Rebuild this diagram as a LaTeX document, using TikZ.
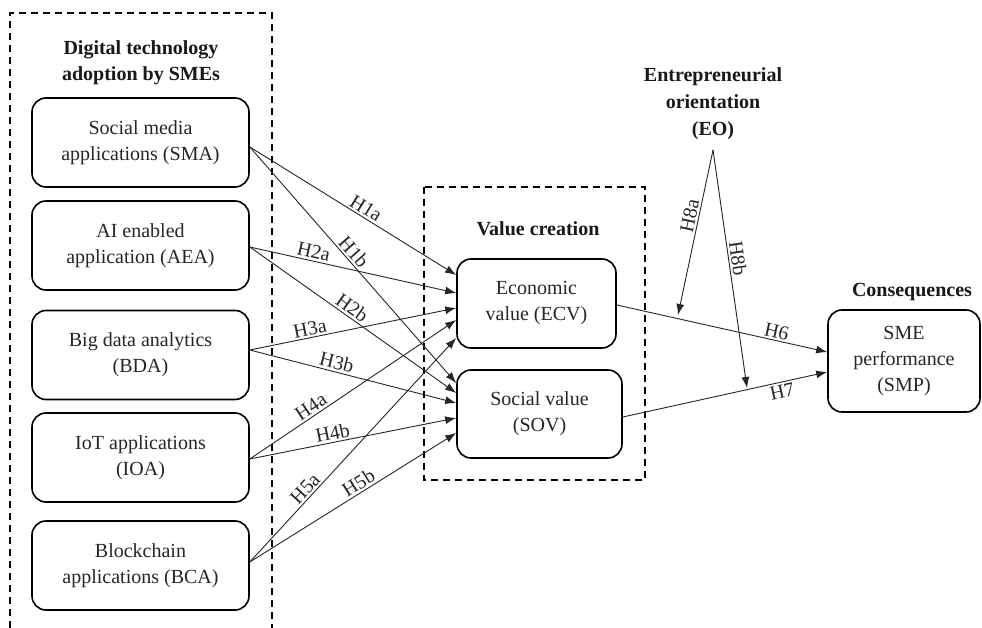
\documentclass[tikz,border=0pt]{standalone}
\usepackage{fontspec}
\setmainfont{Liberation Serif}
\usetikzlibrary{arrows.meta,calc}
\begin{document}
\begin{tikzpicture}[x=1pt,y=-1pt,
 box/.style={draw=black, line width=1.6pt, rounded corners=14pt, align=center,
   font=\fontsize{20}{26}\selectfont, text=black!85, inner sep=0pt},
 head/.style={align=center, font=\fontsize{20}{26}\selectfont\bfseries, text=black!90, inner sep=0pt},
 dashbox/.style={draw=black, line width=1.5pt, dash pattern=on 7pt off 5pt},
 arr/.style={draw=black!85, line width=0.9pt, -{Latex[length=11pt,width=8pt]}},
 hlab/.style={font=\fontsize{20}{24}\selectfont, text=black!85, sloped, inner sep=2pt},
]
\useasboundingbox (0,0) rectangle (982,628);
\fill[white] (0,0) rectangle (982,628);

% dashed group frames
\draw[dashbox] (10,628) -- (10,13) -- (272,13) -- (272,628);
\draw[dashbox] (424,187) rectangle (645,480);

% headings
\node[head] (hDTA) at (141,62.5) {Digital technology\\adoption by SMEs};
\node[head] (hVC) at (538,229) {Value creation};
\node[head, font=\fontsize{20}{27}\selectfont\bfseries] (EO) at (713,104) {Entrepreneurial\\orientation\\(EO)};
\node[head] (hCON) at (912,292) {Consequences};

% left boxes
\node[box, minimum width=217pt, minimum height=89pt] (SMA) at (140.5,142.5) {Social media\\applications (SMA)};
\node[box, minimum width=217pt, minimum height=89pt] (AEA) at (140.5,245.5) {AI enabled\\application (AEA)};
\node[box, minimum width=217pt, minimum height=89pt] (BDA) at (140.5,355) {Big data analytics\\(BDA)};
\node[box, minimum width=217pt, minimum height=89pt] (IOA) at (140.5,457.5) {IoT applications\\(IOA)};
\node[box, minimum width=217pt, minimum height=89pt] (BCA) at (140.5,565.5) {Blockchain\\applications (BCA)};

% value boxes
\node[box, minimum width=159pt, minimum height=89pt] (ECV) at (536.5,303.5) {Economic\\value (ECV)};
\node[box, minimum width=165pt, minimum height=88pt] (SOV) at (539.5,414) {Social value\\(SOV)};

% outcome
\node[box, minimum width=152pt, minimum height=102pt] (SMP) at (904,361) {SME\\performance\\(SMP)};

% H1-H5
\draw[arr] ($(SMA.east)+(0,4.5)$) -- node[hlab,above,pos=.54]{H1a} ($(ECV.west)+(0,-28.5)$);
\draw[arr] ($(SMA.east)+(0,4.5)$) -- node[hlab,above,pos=.47]{H1b} ($(SOV.west)+(0,-31)$);
\draw[arr] ($(AEA.east)+(0,1.5)$) -- node[hlab,above,pos=.30]{H2a} ($(ECV.west)+(0,-10.5)$);
\draw[arr] ($(AEA.east)+(0,1.5)$) -- node[hlab,above,pos=.47]{H2b} ($(SOV.west)+(0,-21)$);
\draw[arr] ($(BDA.east)+(0,-5)$) -- node[hlab,above,pos=.30]{H3a} ($(ECV.west)+(0,4.5)$);
\draw[arr] ($(BDA.east)+(0,-5)$) -- node[hlab,above,pos=.41]{H3b} ($(SOV.west)+(0,-11)$);
\draw[arr] ($(IOA.east)+(0,1.5)$) -- node[hlab,above,pos=.32]{H4a} ($(ECV.west)+(0,16.5)$);
\draw[arr] ($(IOA.east)+(0,1.5)$) -- node[hlab,above,pos=.41]{H4b} ($(SOV.west)+(0,4)$);
\draw[arr] ($(BCA.east)+(0,-3.5)$) -- node[hlab,above,pos=.30]{H5a} ($(ECV.west)+(0,34.5)$);
\draw[arr] ($(BCA.east)+(0,-3.5)$) -- node[hlab,above,pos=.55]{H5b} ($(SOV.west)+(0,19)$);

% H6, H7
\draw[arr] ($(ECV.east)+(0,1.5)$) -- node[hlab,above,pos=.75]{H6} ($(SMP.west)+(0,-9)$);
\draw[arr] ($(SOV.east)+(0,3)$) -- node[hlab,below,pos=.77]{H7} ($(SMP.west)+(0,11)$);

% H8 moderation
\coordinate (EOo) at (713,150);
\coordinate (H8aT) at (678,315);
\coordinate (H8bT) at (747,388);
\draw[arr] (EOo) -- node[hlab,above,pos=.41]{H8a} (H8aT);
\draw[arr] (EOo) -- node[hlab,above,pos=.46]{H8b} (H8bT);
\end{tikzpicture}
\end{document}
